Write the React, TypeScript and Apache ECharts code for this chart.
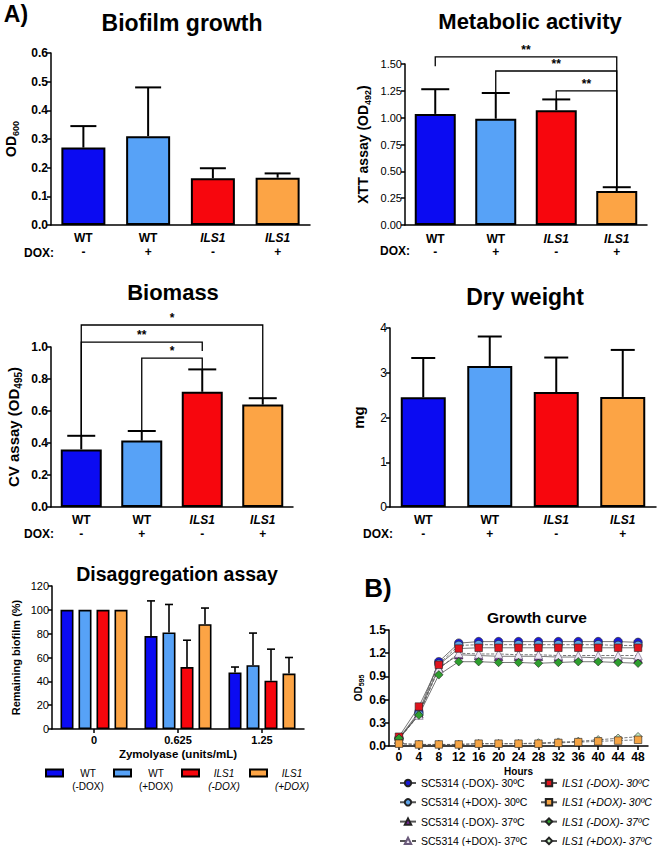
import React, { useEffect, useRef } from "react";
import * as echarts from "echarts";

const FONT = "'Liberation Sans', Arial, Helvetica, sans-serif";

// ---- shared categories ----
const strains = ["WT", "WT", "ILS1", "ILS1"];
const doxLabels = ["-", "+", "-", "+"];
const barColors = ["#0b0bf2", "#57a2f7", "#f7060d", "#fca445"];

// ---- Biofilm growth (OD600) ----
const biofilmMean = [0.27, 0.31, 0.163, 0.165];
const biofilmSD = [0.075, 0.17, 0.035, 0.015];

// ---- Metabolic activity (XTT, OD492) ----
const metabolicMean = [1.035, 0.99, 1.07, 0.317];
const metabolicSD = [0.23, 0.24, 0.1, 0.035];
// brackets: [fromCat, toCat, topValue, leftLegBottom, rightLegBottom]
const metabolicBrackets = [
  [0, 3, 1.566, 1.48, 0.355],
  [1, 3, 1.435, 1.23, 0.355],
  [2, 3, 1.25, 1.17, 0.355],
];
const metabolicStars = ["**", "**", "**"];

// ---- Biomass (CV, OD495) ----
const biomassMean = [0.36, 0.415, 0.72, 0.64];
const biomassSD = [0.085, 0.06, 0.14, 0.04];
const biomassBrackets = [
  [0, 3, 1.1375, 0.45, 0.68],
  [0, 2, 1.03, 0.45, 0.975],
  [1, 2, 0.93, 0.475, 0.86],
];
const biomassStars = ["*", "**", "*"];

// ---- Dry weight (mg) ----
const dryMean = [2.45, 3.15, 2.57, 2.46];
const drySD = [0.88, 0.66, 0.77, 1.05];

// ---- Disaggregation assay ----
const zymoDoses = ["0", "0.625", "1.25"];
const disaggNames = ["WT (-DOX)", "WT (+DOX)", "ILS1 (-DOX)", "ILS1 (+DOX)"];
const disaggWTminus = [100, 78, 47.5];
const disaggWTplus = [100, 81, 53.5];
const disaggILSminus = [100, 52, 40.5];
const disaggILSplus = [100, 88, 46.5];
const disaggWTminusSD = [0, 29.5, 4.5];
const disaggWTplusSD = [0, 23.5, 27];
const disaggILSminusSD = [0, 22.5, 26.5];
const disaggILSplusSD = [0, 13.5, 13.5];

// ---- Growth curve ----
const hours = ["0", "4", "8", "12", "16", "20", "24", "28", "32", "36", "40", "44", "48"];
const gSC30minus = [0.10, 0.44, 1.09, 1.33, 1.35, 1.35, 1.35, 1.35, 1.35, 1.35, 1.35, 1.35, 1.34];
const gSC30plus = [0.09, 0.41, 1.06, 1.30, 1.31, 1.31, 1.31, 1.31, 1.31, 1.31, 1.31, 1.30, 1.30];
const gSC37minus = [0.09, 0.42, 1.01, 1.18, 1.17, 1.16, 1.16, 1.16, 1.15, 1.15, 1.14, 1.14, 1.13];
const gSC37plus = [0.09, 0.40, 1.00, 1.20, 1.19, 1.19, 1.18, 1.18, 1.17, 1.17, 1.17, 1.17, 1.17];
const gILS30minus = [0.12, 0.51, 1.05, 1.26, 1.27, 1.27, 1.27, 1.27, 1.27, 1.27, 1.27, 1.27, 1.27];
const gILS30plus = [0.03, 0.02, 0.02, 0.02, 0.03, 0.03, 0.03, 0.03, 0.04, 0.05, 0.06, 0.07, 0.08];
const gILS37minus = [0.10, 0.40, 0.92, 1.09, 1.09, 1.08, 1.08, 1.07, 1.08, 1.09, 1.09, 1.08, 1.07];
const gILS37plus = [0.03, 0.02, 0.02, 0.02, 0.03, 0.03, 0.03, 0.04, 0.05, 0.06, 0.08, 0.10, 0.12];

const growthNames = [
  "SC5314 (-DOX)- 30ºC",
  "SC5314 (+DOX)- 30ºC",
  "SC5314 (-DOX)- 37ºC",
  "SC5314 (+DOX)- 37ºC",
  "ILS1 (-DOX)- 30ºC",
  "ILS1 (+DOX)- 30ºC",
  "ILS1 (-DOX)- 37ºC",
  "ILS1 (+DOX)- 37ºC",
];
const growthData = [gSC30minus, gSC30plus, gSC37minus, gSC37plus, gILS30minus, gILS30plus, gILS37minus, gILS37plus];
const growthColors = ["#1a1ad6", "#5ea3e8", "#7b2a9e", "#efe8f4", "#e0141e", "#f5a444", "#2e9e2e", "#c4ecc0"];
const growthSymbols = ["circle", "circle", "triangle", "triangle", "rect", "rect", "diamond", "diamond"];
const growthDashed = [false, true, false, true, false, true, false, true];
const growthZ = [3, 3, 3, 3, 3, 5, 3, 4];

const categories = strains.map((s, i) => `${s} ${doxLabels[i]}`);

function barXAxis(gridIndex: number, margin: number, lh: number) {
  const base = { fontFamily: FONT, fontWeight: "bold", fontSize: 12, lineHeight: lh, color: "#000" };
  return {
    type: "category",
    gridIndex,
    data: categories,
    axisLine: { show: true, lineStyle: { color: "#000", width: 1.5 } },
    axisTick: { show: false },
    axisLabel: {
      interval: 0,
      margin,
      color: "#000",
      formatter: (_v: string, i: number) =>
        `{${strains[i] === "ILS1" ? "i" : "n"}|${strains[i]}}\n{d|${doxLabels[i]}}`,
      rich: { n: base, i: { ...base, fontStyle: "italic" }, d: base },
    },
  };
}

function yAxis(
  gridIndex: number,
  max: number,
  interval: number,
  decimals: number,
  bold: boolean,
  fontSize: number,
  name: string,
  nameSize: number,
  nameGap: number
) {
  return {
    type: "value",
    gridIndex,
    min: 0,
    max,
    interval,
    axisLine: { show: true, lineStyle: { color: "#000", width: 1.5 } },
    axisTick: { show: true, length: 4, lineStyle: { color: "#000", width: 1.5 } },
    splitLine: { show: false },
    axisLabel: {
      color: "#000",
      fontFamily: FONT,
      fontSize,
      fontWeight: bold ? "bold" : "normal",
      margin: 3,
      formatter: (v: number) => v.toFixed(decimals),
    },
    name,
    nameLocation: "middle",
    nameRotate: 90,
    nameGap,
    nameTextStyle: {
      color: "#000",
      rich: {
        b: { fontFamily: FONT, fontWeight: "bold", fontSize: nameSize, lineHeight: nameSize + 4, color: "#000", verticalAlign: "middle" },
        s: { fontFamily: FONT, fontWeight: "bold", fontSize: Math.round(nameSize * 0.65), lineHeight: nameSize + 4, color: "#000", verticalAlign: "bottom" },
      },
    },
  };
}

function errorSeries(gridIndex: number, mean: number[], sd: number[], capHalf: number) {
  return {
    type: "custom",
    xAxisIndex: gridIndex,
    yAxisIndex: gridIndex,
    z: 1,
    encode: { x: 0, y: 1 },
    data: mean.map((m, i) => [i, m, sd[i]]),
    renderItem: (_p: any, api: any) => {
      const cat = api.value(0);
      const m = api.value(1);
      const s = api.value(2);
      if (!s) return null;
      const p0 = api.coord([cat, m]);
      const p1 = api.coord([cat, m + s]);
      const st = { stroke: "#000", lineWidth: 2 };
      return {
        type: "group",
        children: [
          { type: "line", shape: { x1: p0[0], y1: p0[1], x2: p1[0], y2: p1[1] }, style: st },
          { type: "line", shape: { x1: p1[0] - capHalf, y1: p1[1], x2: p1[0] + capHalf, y2: p1[1] }, style: st },
        ],
      };
    },
  };
}

function bracketSeries(gridIndex: number, brackets: number[][], stars: string[]) {
  return {
    type: "custom",
    xAxisIndex: gridIndex,
    yAxisIndex: gridIndex,
    clip: false,
    z: 3,
    encode: { x: 0, y: 2 },
    data: brackets,
    renderItem: (p: any, api: any) => {
      const c1 = api.value(0);
      const c2 = api.value(1);
      const top = api.value(2);
      const b1 = api.value(3);
      const b2 = api.value(4);
      const a = api.coord([c1, top]);
      const b = api.coord([c2, top]);
      const a2 = api.coord([c1, b1]);
      const b3 = api.coord([c2, b2]);
      return {
        type: "group",
        children: [
          {
            type: "polyline",
            shape: { points: [[a2[0], a2[1]], [a[0], a[1]], [b[0], b[1]], [b3[0], b3[1]]] },
            style: { stroke: "#000", lineWidth: 1.3, fill: null },
          },
          {
            type: "text",
            x: (a[0] + b[0]) / 2,
            y: a[1] - 1,
            style: {
              text: stars[p.dataIndex],
              fill: "#000",
              font: `bold 12px ${FONT}`,
              align: "center",
              verticalAlign: "bottom",
              textAlign: "center",
              textVerticalAlign: "bottom",
            },
          },
        ],
      };
    },
  };
}

function barSeries(gridIndex: number, mean: number[], barWidth: number) {
  return {
    type: "bar",
    xAxisIndex: gridIndex,
    yAxisIndex: gridIndex,
    barWidth,
    z: 2,
    data: mean.map((v, i) => ({ value: v, itemStyle: { color: barColors[i] } })),
    itemStyle: { borderColor: "#000", borderWidth: 2 },
  };
}

function txt(text: string, x: number, y: number, size: number, align = "center", extra = "bold") {
  return {
    type: "text",
    x,
    y,
    style: {
      text,
      fill: "#000",
      font: `${extra} ${size}px ${FONT}`,
      align,
      verticalAlign: "middle",
      textAlign: align,
      textVerticalAlign: "middle",
    },
  };
}

function buildOption() {
  const disaggMeans = [disaggWTminus, disaggWTplus, disaggILSminus, disaggILSplus];
  const disaggSDs = [disaggWTminusSD, disaggWTplusSD, disaggILSminusSD, disaggILSplusSD];
  const BAR_W = 13;
  const BAR_STEP = 18;
  const disaggErrData: number[][] = [];
  disaggMeans.forEach((arr, k) => arr.forEach((m, d) => disaggErrData.push([d, m, disaggSDs[k][d], k])));

  const legendRich = (italic: boolean) => ({
    fontFamily: FONT,
    fontSize: 10,
    lineHeight: 13,
    width: 40,
    align: "center",
    color: "#000",
    fontStyle: italic ? "italic" : "normal",
  });

  return {
    animation: false,
    backgroundColor: "#fff",
    textStyle: { fontFamily: FONT },
    grid: [
      { left: 51, top: 53, width: 259, height: 172 },
      { left: 405, top: 64, width: 242, height: 161 },
      { left: 51, top: 347, width: 242, height: 160 },
      { left: 390, top: 328, width: 266, height: 179 },
      { left: 52, top: 586, width: 252, height: 143 },
      { left: 389, top: 630, width: 259, height: 116 },
    ],
    xAxis: [
      barXAxis(0, 6, 14),
      barXAxis(1, 7, 13),
      barXAxis(2, 6, 14),
      barXAxis(3, 6, 14),
      {
        type: "category",
        gridIndex: 4,
        data: zymoDoses,
        axisLine: { show: true, lineStyle: { color: "#000", width: 1.5 } },
        axisTick: { show: true, alignWithLabel: true, length: 4, lineStyle: { color: "#000", width: 1.5 } },
        axisLabel: { color: "#000", fontFamily: FONT, fontWeight: "bold", fontSize: 11, margin: 5 },
        name: "Zymolyase (units/mL)",
        nameLocation: "middle",
        nameGap: 19,
        nameTextStyle: { color: "#000", fontFamily: FONT, fontWeight: "bold", fontSize: 11.5 },
      },
      {
        type: "category",
        gridIndex: 5,
        data: hours,
        boundaryGap: true,
        axisLine: { show: true, lineStyle: { color: "#000", width: 1.5 } },
        axisTick: { show: true, alignWithLabel: true, length: 4, lineStyle: { color: "#000", width: 1.5 } },
        axisLabel: { color: "#000", fontFamily: FONT, fontWeight: "bold", fontSize: 12, margin: 5, interval: 0 },
        name: "Hours",
        nameLocation: "middle",
        nameGap: 20,
        nameTextStyle: { color: "#000", fontFamily: FONT, fontWeight: "bold", fontSize: 10 },
      },
    ],
    yAxis: [
      yAxis(0, 0.6, 0.1, 1, true, 12, "{b|OD}{s|600}", 14, 31),
      yAxis(1, 1.5, 0.25, 2, false, 11, "{b|XTT assay (OD}{s|492}{b|)}", 14, 33),
      yAxis(2, 1.0, 0.2, 1, true, 12, "{b|CV assay (OD}{s|495}{b|)}", 15, 28),
      yAxis(3, 4, 1, 0, false, 12, "{b|mg}", 15, 22),
      yAxis(4, 120, 20, 0, false, 11, "{b|Remaining biofilm (%)}", 11, 29),
      yAxis(5, 1.5, 0.3, 1, true, 12, "{b|OD}{s|595}", 10, 21),
    ],
    legend: [
      {
        data: disaggNames,
        orient: "horizontal",
        left: 45,
        top: 755,
        padding: 0,
        itemGap: 5,
        itemWidth: 17,
        itemHeight: 7,
        icon: "rect",
        selectedMode: false,
        formatter: (name: string) => {
          const [a, b] = name.split(" ");
          const st = a === "ILS1" ? "i" : "n";
          return `{${st}| }\n{${st}|${a}}\n{${st}|${b}}`;
        },
        textStyle: { rich: { n: legendRich(false), i: legendRich(true) } },
      },
      {
        data: growthNames.slice(0, 4),
        orient: "vertical",
        left: 399,
        top: 776,
        height: 90,
        padding: 0,
        itemGap: 5.3,
        itemWidth: 16,
        itemHeight: 8,
        selectedMode: false,
        textStyle: { fontFamily: FONT, fontSize: 10.5, lineHeight: 14, color: "#000" },
      },
      {
        data: growthNames.slice(4),
        orient: "vertical",
        left: 540,
        top: 776,
        height: 90,
        padding: 0,
        itemGap: 5.3,
        itemWidth: 16,
        itemHeight: 8,
        selectedMode: false,
        textStyle: { fontFamily: FONT, fontSize: 10.5, lineHeight: 14, color: "#000", fontStyle: "italic" },
      },
    ],
    graphic: [
      txt("A)", 16, 14, 23),
      txt("B)", 378, 588, 26),
      txt("Biofilm growth", 182, 23, 23),
      txt("Metabolic activity", 530, 21, 22),
      txt("Biomass", 173, 292, 22),
      txt("Dry weight", 525, 297, 23),
      txt("Disaggregation assay", 177, 574, 19.5),
      txt("Growth curve", 537, 617, 15.5),
      txt("DOX:", 24, 253, 12, "left"),
      txt("DOX:", 380, 251, 12, "left"),
      txt("DOX:", 24, 534, 12, "left"),
      txt("DOX:", 363, 534, 12, "left"),
    ],
    series: [
      barSeries(0, biofilmMean, 44),
      errorSeries(0, biofilmMean, biofilmSD, 13),
      barSeries(1, metabolicMean, 41),
      errorSeries(1, metabolicMean, metabolicSD, 14),
      bracketSeries(1, metabolicBrackets, metabolicStars),
      barSeries(2, biomassMean, 41),
      errorSeries(2, biomassMean, biomassSD, 14),
      bracketSeries(2, biomassBrackets, biomassStars),
      barSeries(3, dryMean, 45),
      errorSeries(3, dryMean, drySD, 12),
      ...disaggMeans.map((arr, k) => ({
        type: "bar",
        name: disaggNames[k],
        xAxisIndex: 4,
        yAxisIndex: 4,
        barWidth: BAR_W,
        barGap: "38.5%",
        z: 2,
        data: arr,
        itemStyle: { color: barColors[k], borderColor: "#000", borderWidth: 1.6 },
      })),
      {
        type: "custom",
        xAxisIndex: 4,
        yAxisIndex: 4,
        z: 1,
        encode: { x: 0, y: 1 },
        data: disaggErrData,
        renderItem: (_p: any, api: any) => {
          const d = api.value(0);
          const m = api.value(1);
          const s = api.value(2);
          const k = api.value(3);
          if (!s) return null;
          const off = (k - 1.5) * BAR_STEP;
          const p0 = api.coord([d, m]);
          const p1 = api.coord([d, m + s]);
          const x = p0[0] + off;
          const st = { stroke: "#000", lineWidth: 1.6 };
          return {
            type: "group",
            children: [
              { type: "line", shape: { x1: x, y1: p0[1], x2: x, y2: p1[1] }, style: st },
              { type: "line", shape: { x1: x - 4, y1: p1[1], x2: x + 4, y2: p1[1] }, style: st },
            ],
          };
        },
      },
      ...growthData.map((arr, k) => ({
        type: "line",
        name: growthNames[k],
        xAxisIndex: 5,
        yAxisIndex: 5,
        data: arr,
        symbol: growthSymbols[k],
        symbolSize: growthSymbols[k] === "rect" ? 7.5 : 8.5,
        showAllSymbol: true,
        lineStyle: { color: "#555", width: 0.8, type: growthDashed[k] ? "dashed" : "solid" },
        itemStyle: { color: growthColors[k], borderColor: k === 3 ? "#6a5a7a" : "#222", borderWidth: 0.6 },
        z: growthZ[k],
      })),
    ],
  };
}

export default function App() {
  const ref = useRef<HTMLDivElement>(null);
  useEffect(() => {
    if (!ref.current) return;
    const chart = echarts.init(ref.current, null, { renderer: "svg" });
    chart.setOption(buildOption() as any);
    return () => chart.dispose();
  }, []);
  return (
    <div
      ref={ref}
      style={{ position: "absolute", left: 0, top: 0, width: 658, height: 846, background: "#fff" }}
    />
  );
}
